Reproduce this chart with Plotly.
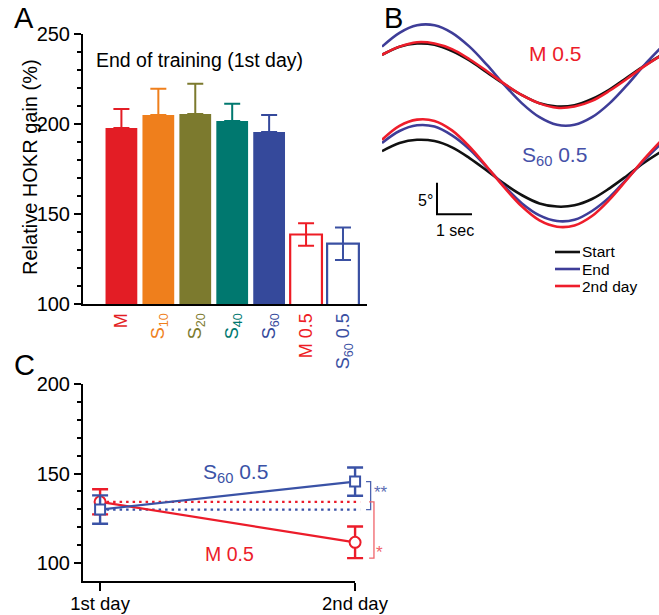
import plotly.graph_objects as go

FONT = "Liberation Sans, Arial, Helvetica, sans-serif"
W, H = 659, 615

# ---------------- Panel A data ----------------
a_groups = ["M", "S<sub>10</sub>", "S<sub>20</sub>", "S<sub>40</sub>", "S<sub>60</sub>",
            "M 0.5", "S<sub>60</sub> 0.5"]
a_gain = [197.8, 205.0, 205.6, 201.7, 195.6, 138.6, 133.5]
a_sem = [10.6, 14.6, 16.7, 9.5, 9.4, 6.2, 9.0]
a_hollow = [False, False, False, False, False, True, True]
a_colors = ["#E31D25", "#EF7F1C", "#7C7A2E", "#00786F", "#35499B", "#EE1C25", "#3A50A2"]
a_title = "End of training (1st day)"
a_ylabel = "Relative HOKR gain (%)"
a_yticks = [100, 150, 200, 250]
a_yminor = [110, 120, 130, 140, 160, 170, 180, 190, 210, 220, 230, 240]

# ---------------- Panel B data (eye position, deg) ----------------
b_time = [0.0, 0.5, 1.0, 1.5, 2.0, 2.5, 3.0, 3.5, 4.0, 4.5, 5.0, 5.5, 6.0, 6.5, 7.0, 7.5, 8.0]
b_m05_start = [3.2, 4.5, 5.0, 4.8, 3.8, 2.3, 0.4, -1.5, -3.2, -4.5, -5.0, -4.8, -3.8, -2.3, -0.4, 1.5, 3.2]
b_m05_end = [4.5, 6.7, 7.9, 7.9, 6.7, 4.5, 1.6, -1.6, -4.5, -6.7, -7.9, -7.9, -6.7, -4.5, -1.6, 1.6, 4.5]
b_m05_day2 = [3.2, 4.5, 5.2, 5.0, 4.1, 2.5, 0.6, -1.4, -3.2, -4.5, -5.2, -5.0, -4.1, -2.5, -0.6, 1.4, 3.2]
b_s60_start = [3.5, 4.8, 5.3, 5.1, 4.1, 2.4, 0.4, -1.7, -3.5, -4.8, -5.3, -5.1, -4.1, -2.4, -0.4, 1.7, 3.5]
b_s60_end = [4.8, 6.7, 7.6, 7.4, 6.0, 3.8, 0.9, -2.1, -4.8, -6.7, -7.6, -7.4, -6.0, -3.8, -0.9, 2.1, 4.8]
b_s60_day2 = [5.3, 7.5, 8.5, 8.3, 6.8, 4.2, 1.0, -2.3, -5.3, -7.5, -8.5, -8.3, -6.8, -4.2, -1.0, 2.3, 5.3]
b_sessions = ["Start", "End", "2nd day"]
b_colors = ["#111111", "#3E3D98", "#EE1D2B"]
b_scale_deg = 5
b_scale_sec = 1

# ---------------- Panel C data ----------------
c_days = ["1st day", "2nd day"]
c_m05 = [134.2, 111.6]
c_m05_sem = [7.0, 8.8]
c_s60 = [129.9, 145.5]
c_s60_sem = [7.9, 7.9]
c_yticks = [100, 150, 200]
c_yminor = [110, 120, 130, 140, 160, 170, 180, 190]
RED = "#EC1C2A"
BLUE = "#3A52A6"


def px(x):
    return x / W


def py(y):
    return 1 - y / H


fig = go.Figure()

# ---- Panel A bars ----
for i in range(len(a_gain)):
    c = a_colors[i]
    hollow = a_hollow[i]
    fig.add_trace(go.Bar(
        x=[i], y=[a_gain[i]], width=0.86,
        marker=dict(color="white" if hollow else c,
                    line=dict(color=c, width=2.2 if hollow else 0)),
        error_y=dict(type="data", symmetric=False, array=[a_sem[i]],
                     arrayminus=[a_sem[i] if hollow else 0],
                     color=c, thickness=2, width=8),
        xaxis="x", yaxis="y", showlegend=False))

# ---- Panel B traces ----
b_upper = [b_m05_start, b_m05_end, b_m05_day2]
b_lower = [b_s60_start, b_s60_end, b_s60_day2]
for k in range(3):
    fig.add_trace(go.Scatter(x=b_time, y=b_upper[k], mode="lines",
                             line=dict(color=b_colors[k], width=2.6, shape="spline"),
                             xaxis="x2", yaxis="y2", showlegend=False))
for k in range(3):
    fig.add_trace(go.Scatter(x=b_time, y=b_lower[k], mode="lines",
                             line=dict(color=b_colors[k], width=2.6, shape="spline"),
                             xaxis="x2", yaxis="y3", showlegend=False))
# scale bar (5 deg, 1 sec)
sb_t0, sb_y0 = 1.571, -6.52
fig.add_trace(go.Scatter(x=[sb_t0, sb_t0, sb_t0 + b_scale_sec],
                         y=[sb_y0 + b_scale_deg, sb_y0, sb_y0], mode="lines",
                         line=dict(color="black", width=2),
                         xaxis="x2", yaxis="y3", showlegend=False))

# ---- Panel C traces ----
# invisible trace so that the visible day axis (x3) is drawn
fig.add_trace(go.Scatter(x=[0, 1], y=c_m05, mode="none", hoverinfo="skip",
                         xaxis="x3", yaxis="y4", showlegend=False))
fig.add_trace(go.Scatter(x=[0, 1.02], y=[c_m05[0], c_m05[0]], mode="lines",
                         line=dict(color=RED, width=2.2, dash="2.5px,4px"),
                         xaxis="x4", yaxis="y4", showlegend=False))
fig.add_trace(go.Scatter(x=[0, 1.02], y=[c_s60[0], c_s60[0]], mode="lines",
                         line=dict(color=BLUE, width=2.2, dash="2.5px,4px"),
                         xaxis="x4", yaxis="y4", showlegend=False))
fig.add_trace(go.Scatter(x=[0, 1], y=c_m05, mode="lines+markers",
                         line=dict(color=RED, width=2.2),
                         marker=dict(symbol="circle", size=11, color="white",
                                     line=dict(color=RED, width=2)),
                         error_y=dict(type="data", array=c_m05_sem, color=RED,
                                      thickness=2.4, width=8),
                         xaxis="x4", yaxis="y4", showlegend=False))
fig.add_trace(go.Scatter(x=[0, 1], y=c_s60, mode="lines+markers",
                         line=dict(color=BLUE, width=2.2),
                         marker=dict(symbol="square", size=10, color="white",
                                     line=dict(color=BLUE, width=2)),
                         error_y=dict(type="data", array=c_s60_sem, color=BLUE,
                                      thickness=2.4, width=8),
                         xaxis="x4", yaxis="y4", showlegend=False))
# significance brackets
fig.add_trace(go.Scatter(x=[1.043, 1.061, 1.061, 1.043],
                         y=[c_s60[1], c_s60[1], c_s60[0], c_s60[0]], mode="lines",
                         line=dict(color="#4D63B0", width=1.3),
                         xaxis="x4", yaxis="y4", showlegend=False))
fig.add_trace(go.Scatter(x=[1.055, 1.074, 1.074, 1.055],
                         y=[c_m05[0], c_m05[0], c_m05[1] - c_m05_sem[1], c_m05[1] - c_m05_sem[1]],
                         mode="lines", line=dict(color="#F0646A", width=1.3),
                         xaxis="x4", yaxis="y4", showlegend=False))

axis_common = dict(showgrid=False, zeroline=False, linecolor="black", linewidth=2,
                   tickcolor="black", tickwidth=2, automargin=False)

fig.update_layout(
    width=W, height=H, margin=dict(l=0, r=0, t=0, b=0, pad=0, autoexpand=False),
    paper_bgcolor="white", plot_bgcolor="rgba(0,0,0,0)", showlegend=False,
    barmode="overlay", font=dict(family=FONT, color="black", size=18),
    xaxis=dict(domain=[px(83), px(367)], range=[-1.04, 6.65], anchor="y",
               tickmode="array", tickvals=list(range(len(a_groups))),
               ticktext=['<span style="color:%s">%s</span>' % (a_colors[i], a_groups[i])
                         for i in range(len(a_groups))],
               tickangle=-90, ticks="", showline=True, tickfont=dict(size=18),
               **axis_common),
    yaxis=dict(domain=[py(304), py(34)], range=[100, 250], anchor="x",
               tickmode="array", tickvals=a_yticks, ticks="outside", ticklen=7,
               showline=True, tickfont=dict(size=20),
               minor=dict(tickmode="array", tickvals=a_yminor, ticks="outside",
                          ticklen=4, tickwidth=2, tickcolor="black"),
               **axis_common),
    xaxis2=dict(domain=[px(382), 1.0], range=[0, 277 / 35], anchor="y2",
                visible=False, automargin=False),
    yaxis2=dict(domain=[py(245), py(5)], range=[-26.98, 11.11], anchor="x2",
                visible=False, automargin=False),
    yaxis3=dict(domain=[py(245), py(5)], range=[-11.40, 26.70], anchor="x2",
                overlaying="y2", visible=False, automargin=False),
    xaxis3=dict(domain=[px(83), px(355)], range=[-0.067, 1.0], anchor="y4",
                tickmode="array", tickvals=[0, 1], ticktext=c_days, ticks="outside",
                ticklen=8, ticklabelstandoff=-3, showline=True,
                tickfont=dict(size=18.5), **axis_common),
    yaxis4=dict(domain=[py(581), py(384)], range=[90, 200], anchor="x3",
                tickmode="array", tickvals=c_yticks, ticks="outside", ticklen=7,
                showline=True, tickfont=dict(size=20),
                minor=dict(tickmode="array", tickvals=c_yminor, ticks="outside",
                           ticklen=4, tickwidth=2, tickcolor="black"),
                **axis_common),
    xaxis4=dict(domain=[px(83), px(400)], range=[-0.067, -0.067 + 317 / 255],
                anchor="y4", visible=False, automargin=False),
)


def ann(text, x, y, size, color="black", xanchor="center", yanchor="middle", angle=0):
    fig.add_annotation(text=text, x=px(x), y=py(y), xref="paper", yref="paper",
                       xanchor=xanchor, yanchor=yanchor, showarrow=False,
                       textangle=angle, font=dict(family=FONT, size=size, color=color))


# panel letters
ann("A", 24, 18, 29)
ann("B", 393, 18, 29)
ann("C", 24, 365, 29)
# panel A texts
ann(a_ylabel, 30, 167, 20, angle=-90)
ann(a_title, 94, 60, 19.5, xanchor="left")
# panel B texts
ann("M 0.5", 555, 54, 21, RED)
ann("S<sub>60</sub> 0.5", 554, 156, 21, "#4550A8")
ann("5°", 435, 200, 16, xanchor="right")
ann("1 sec", 455, 230, 16)
leg_y = [252, 269, 286]
for k in range(3):
    fig.add_shape(type="line", xref="paper", yref="paper",
                  x0=px(555), x1=px(580), y0=py(leg_y[k]), y1=py(leg_y[k]),
                  line=dict(color=b_colors[k], width=2.6))
    ann(b_sessions[k], 580, leg_y[k], 15.5, xanchor="left")
# panel C texts
ann("S<sub>60</sub> 0.5", 235, 473, 21, BLUE)
ann("M 0.5", 229, 554, 19.5, RED)
ann("**", 381, 492, 17, "#5B6DB3")
ann("*", 379, 552, 17, "#F0646A")

fig.write_html("out.html", config={"displayModeBar": False},
               post_script="document.body.style.margin='0px';"
                           "document.body.style.overflow='hidden';")
